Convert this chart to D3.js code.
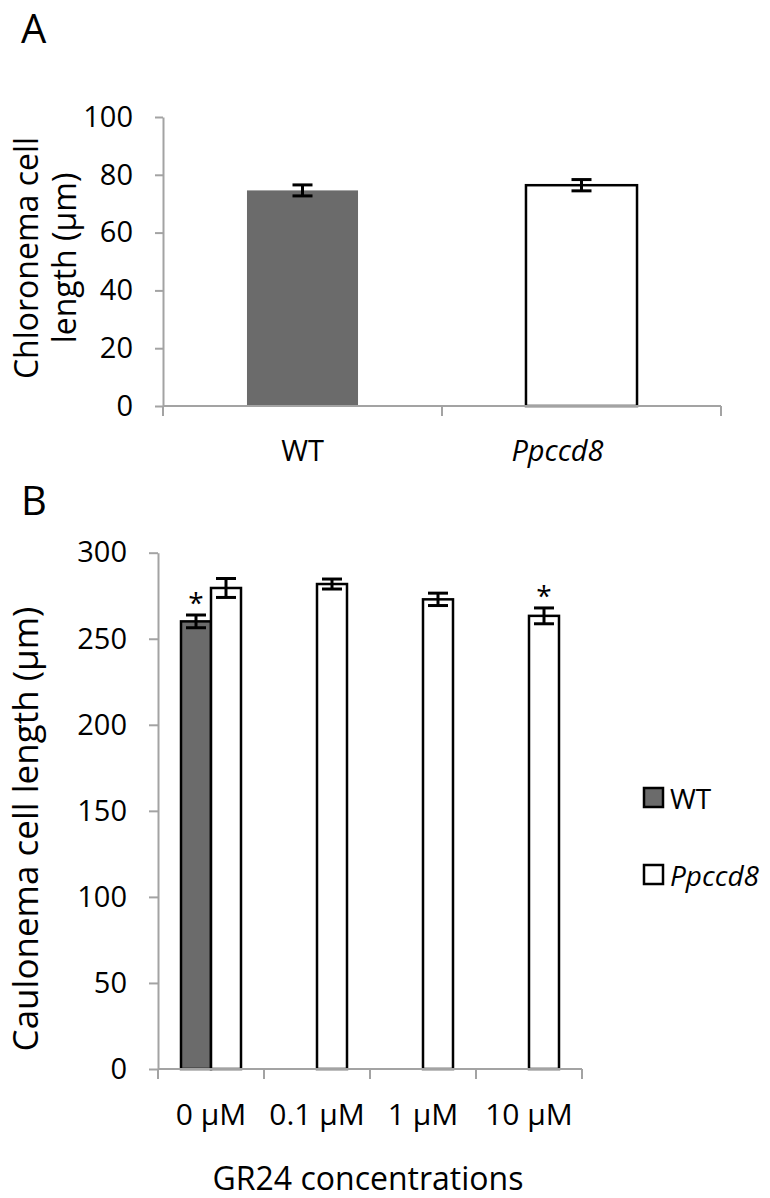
<!DOCTYPE html>
<html>
<head>
<meta charset="utf-8">
<script src="https://cdn.jsdelivr.net/npm/d3@7"></script>
<style>
  html, body { margin: 0; padding: 0; background: #fff; }
  svg { display: block; font-family: "Open Sans", sans-serif; }
</style>
</head>
<body>
<svg id="chart" width="770" height="1198"></svg>
<script>
// ---------- Data ----------
// Panel A
const catsA = ["WT", "Ppccd8"];
const valuesA = [74.6, 76.4];
const errorsA = [1.9, 1.95];
const ticksA = [0, 20, 40, 60, 80, 100];

// Panel B
const concentrations = ["0 μM", "0.1 μM", "1 μM", "10 μM"];
const seriesB = ["WT", "Ppccd8"];
const wtValuesB = [260.1, null, null, null];
const wtErrorsB = [3.7, null, null, null];
const ppValuesB = [279.5, 281.8, 272.9, 263.3];
const ppErrorsB = [5.5, 2.9, 3.6, 4.6];
const wtSignificant = [true, false, false, false];
const ppSignificant = [false, false, false, true];
const ticksB = [0, 50, 100, 150, 200, 250, 300];

// ---------- Styles ----------
const AXIS = "#a3a3a3";
const WT_FILL = "#6b6b6b";
const FONT = "'Open Sans', sans-serif";

const svg = d3.select("#chart");

function errorBar(g, cx, y, v, e) {
  const top = y(v + e), bot = y(v - e);
  g.append("line").attr("x1", cx).attr("x2", cx).attr("y1", top).attr("y2", bot)
    .attr("stroke", "#000").attr("stroke-width", 3);
  [top, bot].forEach(yy => g.append("line")
    .attr("x1", cx - 10).attr("x2", cx + 10).attr("y1", yy).attr("y2", yy)
    .attr("stroke", "#000").attr("stroke-width", 3));
}

function styleYAxis(g) {
  g.select(".domain").attr("stroke", AXIS).attr("stroke-width", 2);
  g.selectAll(".tick line").attr("stroke", AXIS).attr("stroke-width", 2);
  g.selectAll(".tick text").attr("fill", "#000").attr("font-size", 29)
    .attr("font-family", FONT);
}

// ================= Panel A =================
{
  const left = 163, right = 721, y0 = 406, yTop = 117;
  const y = d3.scaleLinear().domain([0, 100]).range([y0, yTop]);
  const xb = d3.scaleBand().domain(catsA).range([left, right]).padding(0);
  const x = d3.scaleBand().domain(catsA).range([left, right])
    .paddingInner(0.602).paddingOuter(0.301);

  svg.append("text").attr("x", 21).attr("y", 43).attr("font-size", 40)
    .attr("font-family", FONT).text("A");

  // bars
  const g = svg.append("g");
  catsA.forEach((c, i) => {
    g.append("rect")
      .attr("x", x(c)).attr("y", y(valuesA[i]))
      .attr("width", x.bandwidth()).attr("height", y0 - y(valuesA[i]))
      .attr("fill", i === 0 ? WT_FILL : "#fff")
      .attr("stroke", i === 0 ? "none" : "#000")
      .attr("stroke-width", 2.5);
  });
  catsA.forEach((c, i) => errorBar(g, x(c) + x.bandwidth() / 2, y, valuesA[i], errorsA[i]));

  // y axis
  const ya = svg.append("g").attr("transform", `translate(${left},0)`)
    .call(d3.axisLeft(y).tickValues(ticksA).tickSize(8).tickSizeOuter(0).tickPadding(22));
  styleYAxis(ya);

  // x axis line + boundary ticks
  svg.append("line").attr("x1", left).attr("x2", right).attr("y1", y0).attr("y2", y0)
    .attr("stroke", AXIS).attr("stroke-width", 2);
  const bounds = catsA.map(c => xb(c)).concat([right]);
  bounds.forEach(bx => svg.append("line").attr("x1", bx).attr("x2", bx)
    .attr("y1", y0).attr("y2", y0 + 10).attr("stroke", AXIS).attr("stroke-width", 2));

  // category labels
  const xOffsets = [0, -24];
  catsA.forEach((c, i) => {
    svg.append("text")
      .attr("x", xb(c) + xb.bandwidth() / 2 + xOffsets[i]).attr("y", 461)
      .attr("text-anchor", "middle").attr("font-size", 29).attr("font-family", FONT)
      .attr("font-style", i === 1 ? "italic" : "normal")
      .text(c);
  });

  // y title (two lines)
  const t = svg.append("text").attr("transform", "translate(38,258) rotate(-90)")
    .attr("text-anchor", "middle").attr("font-size", 32).attr("font-family", FONT);
  t.append("tspan").attr("x", 0).attr("y", 0).text("Chloronema cell");
  t.append("tspan").attr("x", 0).attr("y", 38).text("length (μm)");
}

// ================= Panel B =================
{
  const left = 158, right = 582, y0 = 1069, yTop = 552.7;
  const y = d3.scaleLinear().domain([0, 300]).range([y0, yTop]);
  const xb = d3.scaleBand().domain(concentrations).range([left, right]).padding(0);
  const x0 = d3.scaleBand().domain(concentrations).range([left, right])
    .paddingInner(0.434).paddingOuter(0.217);
  const x1 = d3.scaleBand().domain(seriesB).range([0, x0.bandwidth()]);

  svg.append("text").attr("x", 21).attr("y", 515).attr("font-size", 40)
    .attr("font-family", FONT).text("B");

  const g = svg.append("g");
  const series = [
    { key: "WT", vals: wtValuesB, errs: wtErrorsB, sig: wtSignificant, fill: WT_FILL },
    { key: "Ppccd8", vals: ppValuesB, errs: ppErrorsB, sig: ppSignificant, fill: "#fff" }
  ];
  series.forEach(s => {
    concentrations.forEach((c, i) => {
      const v = s.vals[i];
      if (v == null) return;
      const bx = x0(c) + x1(s.key);
      g.append("rect").attr("x", bx).attr("y", y(v))
        .attr("width", x1.bandwidth()).attr("height", y0 - y(v))
        .attr("fill", s.fill).attr("stroke", "#000").attr("stroke-width", 2.5);
    });
  });
  series.forEach(s => {
    concentrations.forEach((c, i) => {
      const v = s.vals[i];
      if (v == null) return;
      const cx = x0(c) + x1(s.key) + x1.bandwidth() / 2;
      errorBar(g, cx, y, v, s.errs[i]);
      if (s.sig[i]) {
        g.append("text").attr("x", cx).attr("y", y(v + s.errs[i]) - 2)
          .attr("text-anchor", "middle").attr("font-size", 28)
          .attr("font-family", FONT).text("*");
      }
    });
  });

  const ya = svg.append("g").attr("transform", `translate(${left},0)`)
    .call(d3.axisLeft(y).tickValues(ticksB).tickSize(9).tickSizeOuter(0).tickPadding(22));
  styleYAxis(ya);

  svg.append("line").attr("x1", left).attr("x2", right).attr("y1", y0).attr("y2", y0)
    .attr("stroke", AXIS).attr("stroke-width", 2);
  const bounds = concentrations.map(c => xb(c)).concat([right]);
  bounds.forEach(bx => svg.append("line").attr("x1", bx).attr("x2", bx)
    .attr("y1", y0).attr("y2", y0 + 10).attr("stroke", AXIS).attr("stroke-width", 2));

  concentrations.forEach(c => {
    svg.append("text").attr("x", xb(c) + xb.bandwidth() / 2).attr("y", 1125)
      .attr("text-anchor", "middle").attr("font-size", 30).attr("font-family", FONT)
      .text(c);
  });

  svg.append("text").attr("x", (left + right) / 2 - 2).attr("y", 1190)
    .attr("text-anchor", "middle").attr("font-size", 32).attr("font-family", FONT)
    .text("GR24 concentrations");

  svg.append("text").attr("transform", "translate(38,829) rotate(-90)")
    .attr("text-anchor", "middle").attr("font-size", 35).attr("font-family", FONT)
    .text("Caulonema cell length (μm)");

  // legend
  const legY = [797.5, 874.5];
  const lg = svg.append("g");
  series.forEach((s, i) => {
    lg.append("rect").attr("x", 644).attr("y", legY[i] - 9.5).attr("width", 19).attr("height", 19)
      .attr("fill", s.fill).attr("stroke", "#000").attr("stroke-width", 2.5);
    lg.append("text").attr("x", 670).attr("y", legY[i] + 11).attr("font-size", 28)
      .attr("font-family", FONT).attr("font-style", i === 1 ? "italic" : "normal")
      .text(s.key);
  });
}
</script>
</body>
</html>
